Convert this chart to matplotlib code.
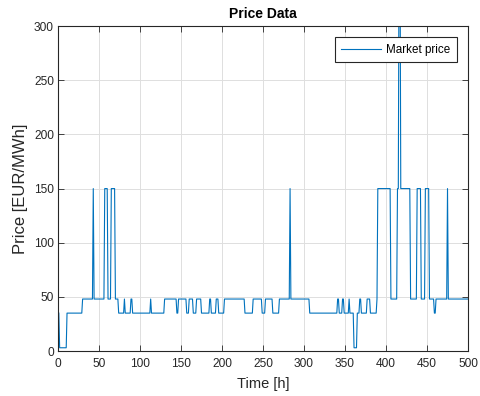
import numpy as np
import matplotlib
matplotlib.use("Agg")
import matplotlib.pyplot as plt

# Hourly market price, run-length encoded: (first hour, value) until next run
run_start = [1, 2, 11, 30, 43, 44, 57, 61, 65, 70, 74, 81, 82, 89, 91, 113, 114,
             130, 145, 147, 157, 160, 165, 169, 175, 185, 187, 193, 196, 203,
             228, 238, 249, 253, 262, 270, 283, 284, 307, 341, 343, 347, 349,
             355, 356, 361, 365, 368, 370, 377, 381, 389, 390, 406, 414, 416,
             418, 430, 438, 443, 448, 453, 459, 461, 475, 476]
run_value = [35, 3, 35, 48, 150, 48, 150, 48, 150, 48, 35, 48, 35, 48, 35, 48, 35,
             48, 35, 48, 35, 48, 35, 48, 35, 48, 35, 48, 35, 48,
             35, 48, 35, 48, 35, 48, 150, 48, 35, 48, 35, 48, 35,
             48, 35, 3, 35, 48, 35, 48, 35, 48, 150, 48, 150, 400,
             150, 48, 150, 48, 150, 48, 35, 48, 150, 48]
last_hour = 500

hours = np.arange(1, last_hour + 1)
price = np.empty(len(hours))
bounds = run_start + [last_hour + 1]
for i, v in enumerate(run_value):
    price[(hours >= bounds[i]) & (hours < bounds[i + 1])] = v

plt.rcParams['font.family'] = ['Liberation Sans', 'DejaVu Sans']
fig = plt.figure(figsize=(4.81, 3.96), dpi=100)
ax = fig.add_axes([0.1206, 0.1136, 0.8524, 0.8204])

ax.plot(hours, price, color='#0072BD', lw=0.8, label='Market price')
ax.set_xlim(0, 500)
ax.set_ylim(0, 300)
ax.set_xticks(np.arange(0, 501, 50))
ax.set_yticks(np.arange(0, 301, 50))
ax.grid(True, color='#dedede', lw=0.7)
ax.set_axisbelow(True)
dark = '#262626'
for s in ax.spines.values():
    s.set_color(dark)
    s.set_linewidth(0.8)
ax.tick_params(direction='in', length=4, width=0.6, colors=dark, labelsize=8.6,
               top=True, right=True)
ax.tick_params(axis='x', pad=5)
ax.tick_params(axis='y', pad=3)
ax.set_xlabel('Time [h]', fontsize=10.5, color=dark, labelpad=5)
ax.set_ylabel('Price [EUR/MWh]', fontsize=12, color=dark, labelpad=4)
ax.set_title('Price Data', fontsize=10, fontweight='bold', color='black', pad=6)
leg = ax.legend(loc='upper right', fontsize=8.4, fancybox=False, framealpha=1,
                edgecolor=dark, handlelength=3.4, handletextpad=0.45,
                borderpad=0.55, borderaxespad=0.95)
leg.get_frame().set_linewidth(0.8)

fig.savefig('out.png', dpi=100, facecolor='white')
